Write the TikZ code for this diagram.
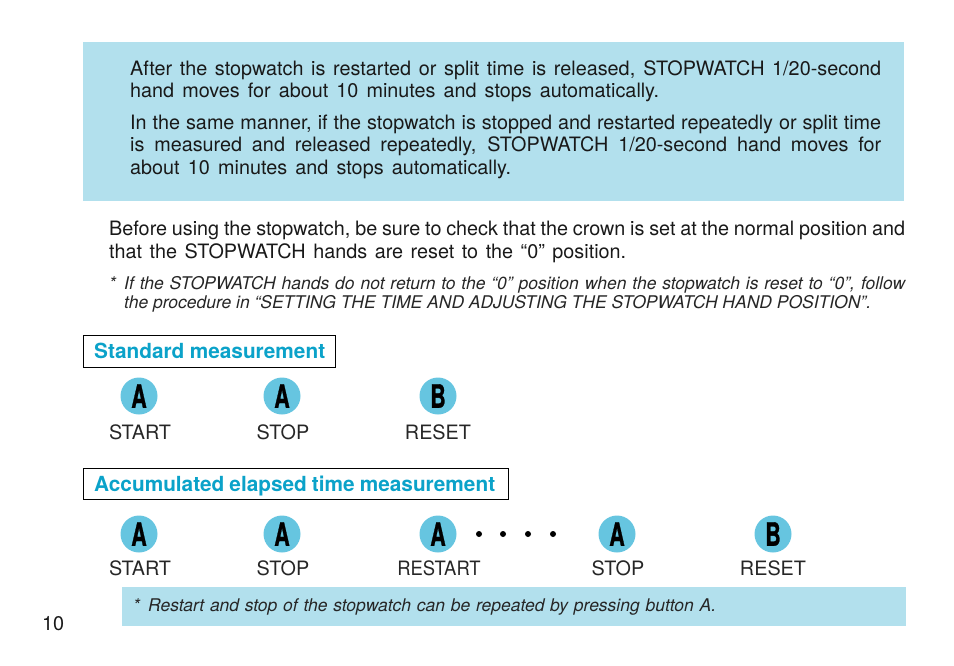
\documentclass[tikz,border=0pt]{standalone}
\usepackage{fontspec}
\setmainfont{TeX Gyre Heros}
\newfontfamily\btnfont[FakeBold=1.2]{TeX Gyre Heros Bold}
\usetikzlibrary{positioning}
\definecolor{panelblue}{HTML}{B2E0ED}
\definecolor{buttonblue}{HTML}{66C5E0}
\definecolor{headblue}{HTML}{0BA2C9}
\newcommand{\fitline}[2]{\makebox[#1pt][s]{#2}}
\tikzset{
    panel/.style={fill=panelblue,inner sep=0pt,anchor=north west},
    bodyline/.style={inner sep=0pt,anchor=base west,text=black!90,font=\fontsize{19.8}{21}\selectfont},
    noteline/.style={inner sep=0pt,anchor=base west,text=black!85,font=\fontsize{17.5}{19}\selectfont\itshape},
    headbox/.style={draw,line width=1pt,inner sep=0pt,anchor=north west},
    headtext/.style={inner sep=0pt,anchor=base west,text=headblue,font=\fontsize{20.8}{22}\selectfont\bfseries},
    button/.style={circle,fill=buttonblue,inner sep=0pt,minimum size=37pt},
    buttonlabel/.style={inner sep=0pt,anchor=base,text=black!85,font=\fontsize{19.8}{21}\selectfont},
    pause/.style={circle,fill=black,inner sep=0pt,minimum size=6pt}
}
\newcommand{\btn}[1]{\scalebox{0.82}[1.24]{\fontsize{26}{26}\btnfont #1}}
\begin{document}
\begin{tikzpicture}[x=1pt,y=-1pt]
    \useasboundingbox (0,0) rectangle (954,665);

    % Panels
    \node[panel,minimum width=821pt,minimum height=159pt] (top_panel) at (83,42) {};
    \node[panel,minimum width=784pt,minimum height=39pt] (note_panel) at (122,587) {};

    % Text in the top panel
    \node[bodyline] (top1) at (130,75) {\fitline{751}{After the stopwatch is restarted or split time is released, STOPWATCH 1/20-second}};
    \node[bodyline] (top2) at (130,97) {\fitline{529}{hand moves for about 10 minutes and stops automatically.}};
    \node[bodyline] (top3) at (130,129) {\fitline{751}{In the same manner, if the stopwatch is stopped and restarted repeatedly or split time}};
    \node[bodyline] (top4) at (130,151) {\fitline{751}{is measured and released repeatedly, STOPWATCH 1/20-second hand moves for}};
    \node[bodyline] (top5) at (130,174) {\fitline{381}{about 10 minutes and stops automatically.}};

    % Text under the panel
    \node[bodyline] (before1) at (109,235) {\fitline{796}{Before using the stopwatch, be sure to check that the crown is set at the normal position and}};
    \node[bodyline] (before2) at (109,258) {\fitline{517}{that the STOPWATCH hands are reset to the “0” position.}};
    \node[noteline] (star1) at (109,289) {*};
    \node[noteline] (note1) at (124,289) {\fitline{781}{If the STOPWATCH hands do not return to the “0” position when the stopwatch is reset to “0”, follow}};
    \node[noteline] (note2) at (124,308) {\fitline{747}{the procedure in “SETTING THE TIME AND ADJUSTING THE STOPWATCH HAND POSITION”.}};

    % Standard measurement
    \node[headbox,minimum width=252pt,minimum height=32pt] (std_box) at (83,335) {};
    \node[headtext] (std_head) at (94,358) {\fitline{231}{Standard measurement}};
    \node[button] (std_a1) at (139,396) {\btn{A}};
    \node[button] (std_a2) at (282,396) {\btn{A}};
    \node[button] (std_b) at (438,396) {\btn{B}};
    \node[buttonlabel] (std_start) at (140,439) {START};
    \node[buttonlabel] (std_stop) at (283,439) {STOP};
    \node[buttonlabel] (std_reset) at (438,439) {RESET};

    % Accumulated measurement
    \node[headbox,minimum width=425pt,minimum height=31pt] (acc_box) at (83,468) {};
    \node[headtext] (acc_head) at (94,491) {\fitline{401}{Accumulated elapsed time measurement}};
    \node[button] (acc_a1) at (139,534) {\btn{A}};
    \node[button] (acc_a2) at (282,534) {\btn{A}};
    \node[button] (acc_a3) at (438,534) {\btn{A}};
    \node[button] (acc_a4) at (617,534) {\btn{A}};
    \node[button] (acc_b) at (773,534) {\btn{B}};
    \node[buttonlabel] (acc_start) at (140,575) {START};
    \node[buttonlabel] (acc_stop) at (283,575) {STOP};
    \node[buttonlabel] (acc_restart) at (439,575) {\scalebox{0.93}[1]{RESTART}};
    \node[buttonlabel] (acc_stop2) at (618,575) {STOP};
    \node[buttonlabel] (acc_reset) at (773,575) {RESET};
    \node[pause] (dot1) at (479,534) {};
    \node[pause] (dot2) at (503,534) {};
    \node[pause] (dot3) at (528,534) {};
    \node[pause] (dot4) at (553,534) {};

    % Note and page number
    \node[noteline] (star2) at (133,611) {*};
    \node[noteline] (note3) at (148,611) {\fitline{568}{Restart and stop of the stopwatch can be repeated by pressing button A.}};
    \node[bodyline] (page_no) at (42,630) {10};
\end{tikzpicture}
\end{document}
